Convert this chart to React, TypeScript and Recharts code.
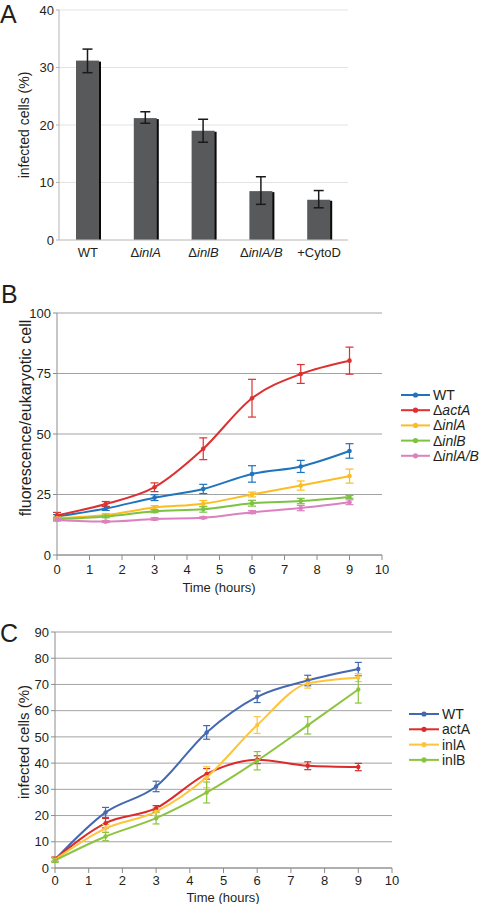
import React from 'react';
import {
  BarChart,
  Bar,
  LineChart,
  Line,
  XAxis,
  YAxis,
  CartesianGrid,
  ErrorBar,
  Legend,
} from 'recharts';

// Panel A: invasion per strain
const strainsA = ['WT', 'ΔinlA', 'ΔinlB', 'ΔinlA/B', '+CytoD'];
const infectedA = [31.2, 21.2, 19.0, 8.5, 7.0];
const infectedAErr = [[2.1, 2.0], [0.9, 1.1], [2.0, 2.0], [2.3, 2.5], [1.4, 1.6]];

// Panel B: fluorescence per eukaryotic cell over time
const timesB = [0, 1.5, 3, 4.5, 6, 7.5, 9];
const wtB = [15.9, 19.2, 23.7, 27.3, 33.5, 36.6, 43.0];
const wtBErr = [0.8, 0.8, 1.2, 1.9, 3.4, 2.5, 3.0];
const actAB = [16.4, 21.1, 28.0, 43.9, 64.8, 74.8, 80.3];
const actABErr = [1.2, 1.0, 1.8, 4.5, 7.8, 3.9, 5.6];
const inlAB = [15.2, 16.5, 19.6, 21.2, 25.0, 28.7, 32.6];
const inlABErr = [0.6, 0.6, 0.8, 1.3, 1.0, 1.9, 2.9];
const inlBB = [14.8, 15.9, 18.1, 18.9, 21.4, 22.3, 24.0];
const inlBBErr = [0.5, 0.5, 0.6, 1.2, 1.2, 1.1, 0.6];
const inlABdB = [14.5, 13.8, 14.9, 15.4, 17.7, 19.4, 21.8];
const inlABdBErr = [0.5, 0.4, 0.5, 0.4, 0.6, 1.1, 1.0];

// Panel C: infected cells over time
const timesC = [0, 1.5, 3, 4.5, 6, 7.5, 9];
const wtC = [3.2, 21.2, 31.1, 51.7, 65.3, 71.5, 75.9];
const wtCErr = [0.8, 1.9, 2.0, 2.6, 2.2, 2.0, 2.5];
const actAC = [3.4, 17.1, 22.8, 35.9, 41.3, 39.0, 38.5];
const actACErr = [0.8, 1.8, 1.0, 2.0, 1.5, 1.5, 1.4];
const inlAC = [3.2, 15.1, 21.5, 34.6, 54.5, 70.4, 72.6];
const inlACErr = [0.8, 1.5, 1.5, 4.0, 3.2, 1.8, 1.5];
const inlBC = [2.9, 12.0, 19.0, 28.8, 40.9, 54.4, 68.1];
const inlBCErr = [0.8, 1.6, 2.2, 4.0, 3.5, 3.3, 5.2];

const hourTicks = [0, 1, 2, 3, 4, 5, 6, 7, 8, 9, 10];

const ink = '#231f20';
const font = '"Liberation Sans", Arial, sans-serif';

const rowsA = strainsA.map((s, i) => ({ strain: s, value: infectedA[i], err: infectedAErr[i] }));

const rowsB = timesB.map((t, i) => ({
  t,
  wt: wtB[i], wtErr: wtBErr[i],
  act: actAB[i], actErr: actABErr[i],
  inlA: inlAB[i], inlAErr: inlABErr[i],
  inlB: inlBB[i], inlBErr: inlBBErr[i],
  inlAB: inlABdB[i], inlABErr: inlABdBErr[i],
}));

const rowsC = timesC.map((t, i) => ({
  t,
  wt: wtC[i], wtErr: wtCErr[i],
  act: actAC[i], actErr: actACErr[i],
  inlA: inlAC[i], inlAErr: inlACErr[i],
  inlB: inlBC[i], inlBErr: inlBCErr[i],
}));

const seriesB = [
  { key: 'wt', label: 'WT', color: '#1f74bd' },
  { key: 'act', label: 'ΔactA', color: '#dd3030' },
  { key: 'inlA', label: 'ΔinlA', color: '#fdbd22' },
  { key: 'inlB', label: 'ΔinlB', color: '#7dc242' },
  { key: 'inlAB', label: 'ΔinlA/B', color: '#dc80c0' },
];

const seriesC = [
  { key: 'wt', label: 'WT', color: '#4468b0' },
  { key: 'act', label: 'actA', color: '#da2c2c' },
  { key: 'inlA', label: 'inlA', color: '#fec43c' },
  { key: 'inlB', label: 'inlB', color: '#8cc43f' },
];

// "Δ" upright, gene name italic
const StrainText = ({ label }: { label: string }) => {
  if (label.startsWith('Δ')) {
    return (
      <>
        <tspan>Δ</tspan>
        <tspan fontStyle="italic">{label.slice(1)}</tspan>
      </>
    );
  }
  return <tspan>{label}</tspan>;
};

const ShadowBar = (props: any) => {
  const { x, y, width, height } = props;
  return (
    <g>
      <rect x={x + 2} y={y + 1} width={width} height={height - 1} fill="#0a0a0a" />
      <rect x={x} y={y} width={width} height={height} fill="#58595b" />
    </g>
  );
};

const StrainTick = (props: any) => {
  const { x, payload } = props;
  return (
    <text x={x} y={257} textAnchor="middle" fontSize={13} fill={ink}>
      <StrainText label={payload.value} />
    </text>
  );
};

const SeriesKey = ({ items, gap, lineLen }: { items: typeof seriesB; gap: number; lineLen: number }) => (
  <svg width={84} height={items.length * gap + 6} style={{ display: 'block', fontFamily: font }}>
    {items.map((s, i) => {
      const cy = 8 + i * gap;
      return (
        <g key={s.key}>
          <line x1={3} x2={3 + lineLen} y1={cy} y2={cy} stroke={s.color} strokeWidth={2} />
          <circle cx={3 + lineLen / 2} cy={cy} r={2.6} fill={s.color} />
          <text x={6 + lineLen} y={cy + 5} fontSize={14} fill={ink}>
            <StrainText label={s.label} />
          </text>
        </g>
      );
    })}
  </svg>
);

const axisTitle = (text: string, x: number, y: number, size: number, rotate: boolean) => () => (
  <text
    x={x}
    y={y}
    textAnchor="middle"
    dominantBaseline="central"
    fontSize={size}
    fill={ink}
    transform={rotate ? `rotate(-90 ${x} ${y})` : undefined}
  >
    {text}
  </text>
);

const PanelLetter = ({ letter, left, top }: { letter: string; left: number; top: number }) => (
  <div style={{ position: 'absolute', left, top, fontSize: 25, lineHeight: '25px', color: ink }}>{letter}</div>
);

const PanelA = () => (
  <BarChart width={360} height={270} data={rowsA} margin={{ top: 10, right: 12, left: 0, bottom: 0 }}>
    <CartesianGrid vertical={false} stroke="#e3e3e3" />
    <XAxis
      dataKey="strain"
      height={30}
      axisLine={{ stroke: '#c4c4c4' }}
      tickLine={false}
      tick={<StrainTick />}
      interval={0}
    />
    <YAxis
      width={59}
      domain={[0, 40]}
      ticks={[0, 10, 20, 30, 40]}
      axisLine={{ stroke: '#b4b4b4' }}
      tickLine={{ stroke: '#b4b4b4' }}
      tickSize={3}
      tickMargin={2}
      tick={{ fontSize: 13, fill: ink }}
      label={axisTitle('infected cells (%)', 24, 125, 14, true)}
    />
    <Bar dataKey="value" barSize={23} shape={<ShadowBar />} isAnimationActive={false}>
      <ErrorBar dataKey="err" width={5} stroke="#1a1a1a" strokeWidth={1.5} isAnimationActive={false} />
    </Bar>
  </BarChart>
);

const PanelB = () => (
  <LineChart width={480} height={320} data={rowsB} margin={{ top: 33, right: 98, left: 0, bottom: 0 }}>
    <CartesianGrid vertical={false} stroke="#a3a3a3" />
    <XAxis
      dataKey="t"
      type="number"
      domain={[0, 10]}
      ticks={hourTicks}
      height={45}
      axisLine={{ stroke: '#8c8c8c' }}
      tickLine={{ stroke: '#8c8c8c' }}
      tickSize={5}
      tickMargin={5}
      tick={{ fontSize: 13, fill: ink }}
      label={axisTitle('Time (hours)', 219, 307, 13, false)}
    />
    <YAxis
      width={57}
      domain={[0, 100]}
      ticks={[0, 25, 50, 75, 100]}
      axisLine={{ stroke: '#8c8c8c' }}
      tickLine={{ stroke: '#8c8c8c' }}
      tickSize={4}
      tickMargin={2}
      tick={{ fontSize: 13, fill: ink }}
      label={axisTitle('fluorescence/eukaryotic cell', 25, 138, 16, true)}
    />
    {seriesB.map((s) => (
      <Line
        key={s.key}
        type="monotone"
        dataKey={s.key}
        stroke={s.color}
        strokeWidth={2}
        dot={{ r: 2.3, fill: s.color, stroke: s.color, strokeWidth: 0 }}
        isAnimationActive={false}
      >
        <ErrorBar dataKey={`${s.key}Err`} width={4} stroke={s.color} strokeWidth={1.2} isAnimationActive={false} />
      </Line>
    ))}
    <Legend
      layout="horizontal"
      verticalAlign="middle"
      align="center"
      wrapperStyle={{ left: 398, top: 107, width: 84 }}
      content={() => <SeriesKey items={seriesB} gap={15.2} lineLen={29} />}
    />
  </LineChart>
);

const PanelC = () => (
  <LineChart width={480} height={314} data={rowsC} margin={{ top: 42, right: 88, left: 0, bottom: 0 }}>
    <CartesianGrid vertical={false} stroke="#a3a3a3" />
    <XAxis
      dataKey="t"
      type="number"
      domain={[0, 10]}
      ticks={hourTicks}
      height={36}
      axisLine={{ stroke: '#8c8c8c' }}
      tickLine={{ stroke: '#8c8c8c' }}
      tickSize={5}
      tickMargin={3}
      tick={{ fontSize: 13, fill: ink }}
      label={axisTitle('Time (hours)', 223, 307, 13, false)}
    />
    <YAxis
      width={55}
      domain={[0, 90]}
      ticks={[0, 10, 20, 30, 40, 50, 60, 70, 80, 90]}
      axisLine={{ stroke: '#8c8c8c' }}
      tickLine={{ stroke: '#8c8c8c' }}
      tickSize={4}
      tickMargin={2}
      tick={{ fontSize: 13, fill: ink }}
      label={axisTitle('infected cells (%)', 23, 152, 15, true)}
    />
    {seriesC.map((s) => (
      <Line
        key={s.key}
        type="monotone"
        dataKey={s.key}
        stroke={s.color}
        strokeWidth={2}
        dot={{ r: 2.2, fill: s.color, stroke: s.color, strokeWidth: 0 }}
        isAnimationActive={false}
      >
        <ErrorBar dataKey={`${s.key}Err`} width={3.5} stroke={s.color} strokeWidth={1.2} isAnimationActive={false} />
      </Line>
    ))}
    <Legend
      layout="horizontal"
      verticalAlign="middle"
      align="center"
      wrapperStyle={{ left: 406, top: 116, width: 84 }}
      content={() => <SeriesKey items={seriesC} gap={15.3} lineLen={30} />}
    />
  </LineChart>
);

export default function App() {
  return (
    <div
      style={{
        position: 'absolute',
        left: 0,
        top: 0,
        width: 480,
        height: 904,
        background: '#fff',
        fontFamily: font,
        overflow: 'hidden',
      }}
    >
      <div style={{ position: 'absolute', left: 0, top: 0 }}>
        <PanelA />
      </div>
      <div style={{ position: 'absolute', left: 0, top: 280 }}>
        <PanelB />
      </div>
      <div style={{ position: 'absolute', left: 0, top: 590 }}>
        <PanelC />
      </div>
      <PanelLetter letter="A" left={0} top={2} />
      <PanelLetter letter="B" left={1} top={282} />
      <PanelLetter letter="C" left={0} top={621} />
    </div>
  );
}
